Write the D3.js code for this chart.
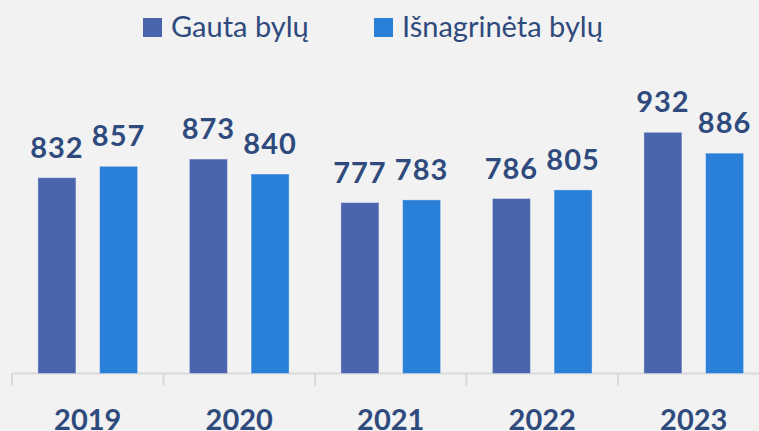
<!DOCTYPE html>
<html>
<head>
<meta charset="utf-8">
<script src="https://cdn.jsdelivr.net/npm/d3@7"></script>
<style>
  body { margin: 0; background: #f2f2f2; }
  svg { display: block; }
</style>
</head>
<body>
<figure id="bylos" style="margin:0"></figure>
<script>
// chart data
var years = ["2019", "2020", "2021", "2022", "2023"];
var gauta = [832, 873, 777, 786, 932];
var isnagrineta = [857, 840, 783, 805, 886];
var seriesNames = ["Gauta bylų", "Išnagrinėta bylų"];
var seriesColors = ["#4a65ad", "#2a7fd8"];

var width = 759, height = 431;

var svg = d3.select("figure#bylos")
    .append("svg")
    .attr("width", width)
    .attr("height", height);

var rows = years.map(function(y, i) {
    return { year: y, values: [gauta[i], isnagrineta[i]] };
});

// x scales: one band per year, then one sub band per series
var x = d3.scaleBand()
    .domain(years)
    .range([12, 769.5])
    .padding(0);

var x1 = d3.scaleBand()
    .domain([0, 1])
    .range([0, x.bandwidth()])
    .paddingInner(0.384)
    .paddingOuter(0.42);

// y axis does not start at zero in the original
var y = d3.scaleLinear()
    .domain([400, 1000])
    .range([373.5, 101.5]);

// baseline axis with ticks between the years
var axis = svg.append("g")
    .attr("transform", "translate(0," + y(400) + ")")
    .call(d3.axisBottom(x).tickSize(0).tickFormat(""));
axis.select(".domain").remove();
axis.append("line")
    .attr("x1", 12).attr("x2", width)
    .attr("y1", 0).attr("y2", 0)
    .attr("stroke", "#d9d9d9").attr("stroke-width", 2);
axis.selectAll(".sep")
    .data(years)
    .enter().append("line")
    .attr("x1", function(d) { return x(d); })
    .attr("x2", function(d) { return x(d); })
    .attr("y1", 0).attr("y2", 12)
    .attr("stroke", "#d9d9d9").attr("stroke-width", 2);

// year labels
svg.append("g")
    .selectAll("text")
    .data(years)
    .enter().append("text")
    .attr("x", function(d) { return x(d) + x.bandwidth() / 2; })
    .attr("y", 430)
    .attr("text-anchor", "middle")
    .attr("font-family", "Lato, 'Open Sans', sans-serif")
    .attr("font-weight", 700)
    .attr("font-size", 29)
    .attr("fill", "#2f4a7d")
    .text(function(d) { return d; });

// bars + value labels
var groups = svg.append("g")
    .selectAll("g")
    .data(rows)
    .enter().append("g")
    .attr("transform", function(d) { return "translate(" + x(d.year) + ",0)"; });

groups.selectAll("rect")
    .data(function(d) { return d.values; })
    .enter().append("rect")
    .attr("x", function(d, i) { return x1(i); })
    .attr("y", function(d) { return y(d); })
    .attr("width", x1.bandwidth())
    .attr("height", function(d) { return y(400) - y(d); })
    .attr("fill", function(d, i) { return seriesColors[i]; })
    .attr("stroke", "rgba(255,255,255,0.35)")
    .attr("stroke-width", 1);

groups.selectAll("text")
    .data(function(d) { return d.values; })
    .enter().append("text")
    .attr("x", function(d, i) { return x1(i) + x1.bandwidth() / 2; })
    .attr("y", function(d) { return y(d) - 20; })
    .attr("text-anchor", "middle")
    .attr("font-family", "Lato, 'Open Sans', sans-serif")
    .attr("font-weight", 700)
    .attr("font-size", 29)
    .attr("letter-spacing", 1)
    .attr("fill", "#2f4a7d")
    .text(function(d) { return d; });

// legend
var legendX = [143, 374];
var legend = svg.append("g")
    .selectAll("g")
    .data(seriesNames)
    .enter().append("g")
    .attr("transform", function(d, i) { return "translate(" + legendX[i] + ",18)"; });

legend.append("rect")
    .attr("width", 19).attr("height", 19)
    .attr("fill", function(d, i) { return seriesColors[i]; });

legend.append("text")
    .attr("x", 28)
    .attr("y", 19)
    .attr("font-family", "Lato, 'Open Sans', sans-serif")
    .attr("font-weight", 400)
    .attr("font-size", 29)
    .attr("fill", "#2f4a7d")
    .text(function(d) { return d; });
</script>
</body>
</html>
